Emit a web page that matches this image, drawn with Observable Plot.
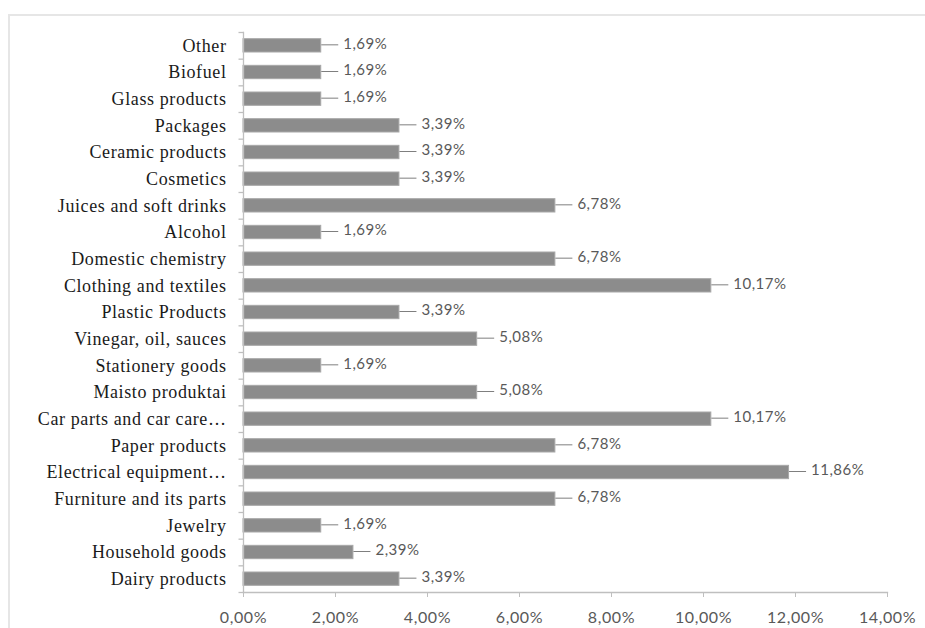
<!DOCTYPE html>
<html>
<head>
<meta charset="utf-8">
<script src="https://cdn.jsdelivr.net/npm/d3@7"></script>
<script src="https://cdn.jsdelivr.net/npm/@observablehq/plot@0.6"></script>
<style>
  html, body { margin: 0; padding: 0; background: #fff; overflow: hidden; }
  #wrap { position: relative; width: 925px; height: 628px; }
  #border { position: absolute; left: 8px; top: 14px; width: 1000px; height: 700px;
            border-top: 2px solid #e6e6e6; border-left: 2px solid #e6e6e6; pointer-events: none; }
  #chart { position: absolute; left: 0; top: 0; }
</style>
</head>
<body>
<div id="wrap"><div id="border"></div><div id="chart"></div></div>
<script>
const categories = [
  "Other", "Biofuel", "Glass products", "Packages", "Ceramic products", "Cosmetics",
  "Juices and soft drinks", "Alcohol", "Domestic chemistry", "Clothing and textiles",
  "Plastic Products", "Vinegar, oil, sauces", "Stationery goods", "Maisto produktai",
  "Car parts and car care…", "Paper products", "Electrical equipment…",
  "Furniture and its parts", "Jewelry", "Household goods", "Dairy products"
];
const values = [
  1.69, 1.69, 1.69, 3.39, 3.39, 3.39,
  6.78, 1.69, 6.78, 10.17,
  3.39, 5.08, 1.69, 5.08,
  10.17, 6.78, 11.86,
  6.78, 1.69, 2.39, 3.39
];
const xTicks = [0, 2, 4, 6, 8, 10, 12, 14];

const data = categories.map((c, i) => ({category: c, value: values[i]}));
const fmt = v => v.toFixed(2).replace(".", ",") + "%";

const W = 925, H = 628;
const mL = 243, mR = 38, mT = 32, mB = 36;
const step = (H - mT - mB) / categories.length;
const pxPerUnit = (W - mL - mR) / 14;
const leader = 17 / pxPerUnit;
const tickLen = 5 / pxPerUnit;

const plot = Plot.plot({
  width: W, height: H,
  marginLeft: mL, marginRight: mR, marginTop: mT, marginBottom: mB,
  style: {fontFamily: "Lato, sans-serif", background: "transparent"},
  x: {domain: [0, 14]},
  y: {type: "band", domain: categories, padding: 0, round: false},
  marks: [
    Plot.barX(data, {x: "value", y: "category", insetTop: step / 4, insetBottom: step / 4,
                     fill: "#8c8c8c", stroke: "#a8a8a8", strokeWidth: 1}),
    Plot.frame({anchor: "left", stroke: "#bfbfbf", strokeWidth: 1.3}),
    Plot.frame({anchor: "bottom", stroke: "#bfbfbf", strokeWidth: 1.3}),
    Plot.link(categories, {x1: -tickLen, x2: 0, y1: d => d, y2: d => d, dy: -step / 2, stroke: "#bfbfbf", strokeWidth: 1.3}),
    Plot.link([categories[categories.length - 1]], {x1: -tickLen, x2: 0, y1: d => d, y2: d => d, dy: step / 2, stroke: "#bfbfbf", strokeWidth: 1.3}),
    Plot.link(data, {x1: "value", x2: d => d.value + leader, y1: "category", y2: "category", dy: -1, stroke: "#7f7f7f", strokeWidth: 1}),
    Plot.text(data, {x: "value", y: "category", text: d => fmt(d.value), dx: 22, dy: -2, textAnchor: "start",
                     fill: "#595959", fontSize: 15, fontFamily: "Lato, sans-serif"}),
    Plot.axisY({tickSize: 0, tickPadding: 17, fontSize: 18, fontFamily: "'Liberation Serif', serif", fill: "#1a1a1a", label: null}),
    Plot.axisX({ticks: xTicks, tickSize: 5, tickPadding: 14, tickFormat: fmt, fontSize: 16,
                stroke: "#bfbfbf", fill: "#595959", label: null})
  ]
});
plot.querySelectorAll("[aria-label='y-axis tick label'] text").forEach(t => t.style.letterSpacing = "0.6px");
plot.querySelectorAll("[aria-label='x-axis tick label'] text").forEach(t => t.style.letterSpacing = "0.6px");
plot.querySelectorAll("[aria-label='text'] text").forEach(t => t.style.letterSpacing = "0.5px");
document.getElementById("chart").appendChild(plot);
</script>
</body>
</html>
